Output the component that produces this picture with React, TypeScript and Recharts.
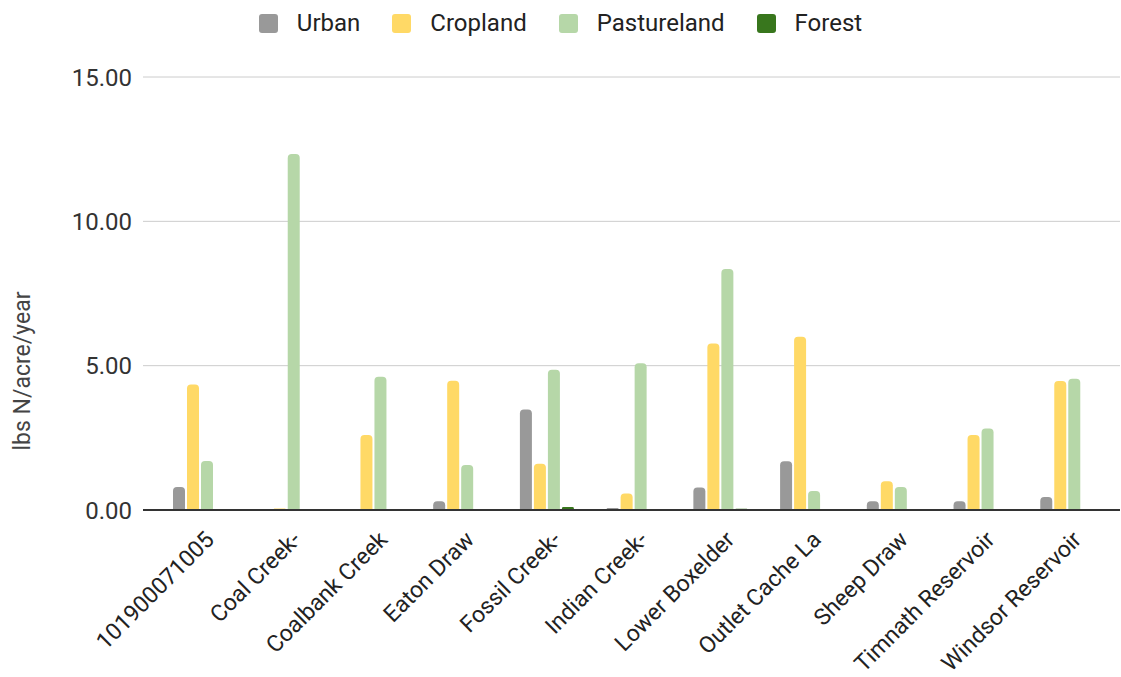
import { BarChart, Bar, XAxis, YAxis, CartesianGrid, Legend } from 'recharts';

const categories = [
  '101900071005',
  'Coal Creek-',
  'Coalbank Creek',
  'Eaton Draw',
  'Fossil Creek-',
  'Indian Creek-',
  'Lower Boxelder',
  'Outlet Cache La',
  'Sheep Draw',
  'Timnath Reservoir',
  'Windsor Reservoir',
];
const urban = [0.8, 0.02, 0.02, 0.3, 3.48, 0.07, 0.78, 1.69, 0.3, 0.3, 0.45];
const cropland = [4.35, 0.05, 2.6, 4.48, 1.6, 0.57, 5.77, 6.0, 1.0, 2.6, 4.47];
const pastureland = [1.7, 12.33, 4.62, 1.56, 4.86, 5.08, 8.35, 0.66, 0.8, 2.82, 4.55];
const forest = [0.02, 0, 0.03, 0.02, 0.1, 0.02, 0.04, 0.03, 0.03, 0.03, 0.03];
const yTicks = [0, 5, 10, 15];

const series = [
  { key: 'urban', name: 'Urban', color: '#999999' },
  { key: 'cropland', name: 'Cropland', color: '#ffd966' },
  { key: 'pastureland', name: 'Pastureland', color: '#b6d7a8' },
  { key: 'forest', name: 'Forest', color: '#38761d' },
];

const data = categories.map((name, i) => ({
  name,
  urban: urban[i],
  cropland: cropland[i],
  pastureland: pastureland[i],
  forest: forest[i],
}));

const FONT = 'Roboto, Arial, sans-serif';

function LegendBox() {
  return (
    <div style={{ display: 'flex', justifyContent: 'center', alignItems: 'center', height: 46, fontFamily: FONT, fontSize: 24, color: '#222' }}>
      {series.map((s) => (
        <div key={s.key} style={{ display: 'flex', alignItems: 'center', margin: '0 16px' }}>
          <span style={{ width: 19, height: 19, borderRadius: 3, background: s.color, marginRight: 19 }} />
          <span>{s.name}</span>
        </div>
      ))}
    </div>
  );
}

function XTick({ x, y, payload }: any) {
  return (
    <text
      transform={`translate(${x + 15}, ${y + 29}) rotate(-45)`}
      textAnchor="end"
      fontSize={23}
      fontFamily={FONT}
      fill="#222"
    >
      {payload.value}
    </text>
  );
}

function YTitle() {
  return (
    <text
      transform="translate(30, 371) rotate(-90)"
      textAnchor="middle"
      fontSize={23}
      fontFamily={FONT}
      fill="#444"
    >
      lbs N/acre/year
    </text>
  );
}

export default function App() {
  return (
    <div style={{ position: 'absolute', left: 0, top: 0, background: '#fff' }}>
      <BarChart
        width={1121}
        height={677}
        data={data}
        margin={{ top: 31, right: 1, bottom: 7, left: 0 }}
        barSize={12}
        barGap={2}
      >
        <CartesianGrid vertical={false} stroke="#cccccc" />
        <XAxis
          dataKey="name"
          interval={0}
          height={160}
          tick={<XTick />}
          tickLine={false}
          tickSize={0}
          axisLine={{ stroke: '#333', strokeWidth: 2 }}
          padding={{ left: 14, right: 9 }}
        />
        <YAxis
          width={143}
          domain={[0, 15]}
          ticks={yTicks}
          tickFormatter={(v: number) => v.toFixed(2)}
          tick={{ fontSize: 24, fontFamily: FONT, fill: '#333' }}
          tickLine={false}
          tickSize={0}
          tickMargin={11}
          axisLine={false}
          label={<YTitle />}
        />
        <Legend verticalAlign="top" align="center" height={46} wrapperStyle={{ top: 0, left: 0, width: 1121 }} content={<LegendBox />} />
        {series.map((s) => (
          <Bar key={s.key} dataKey={s.key} name={s.name} fill={s.color} radius={[4, 4, 0, 0]} isAnimationActive={false} />
        ))}
      </BarChart>
    </div>
  );
}
